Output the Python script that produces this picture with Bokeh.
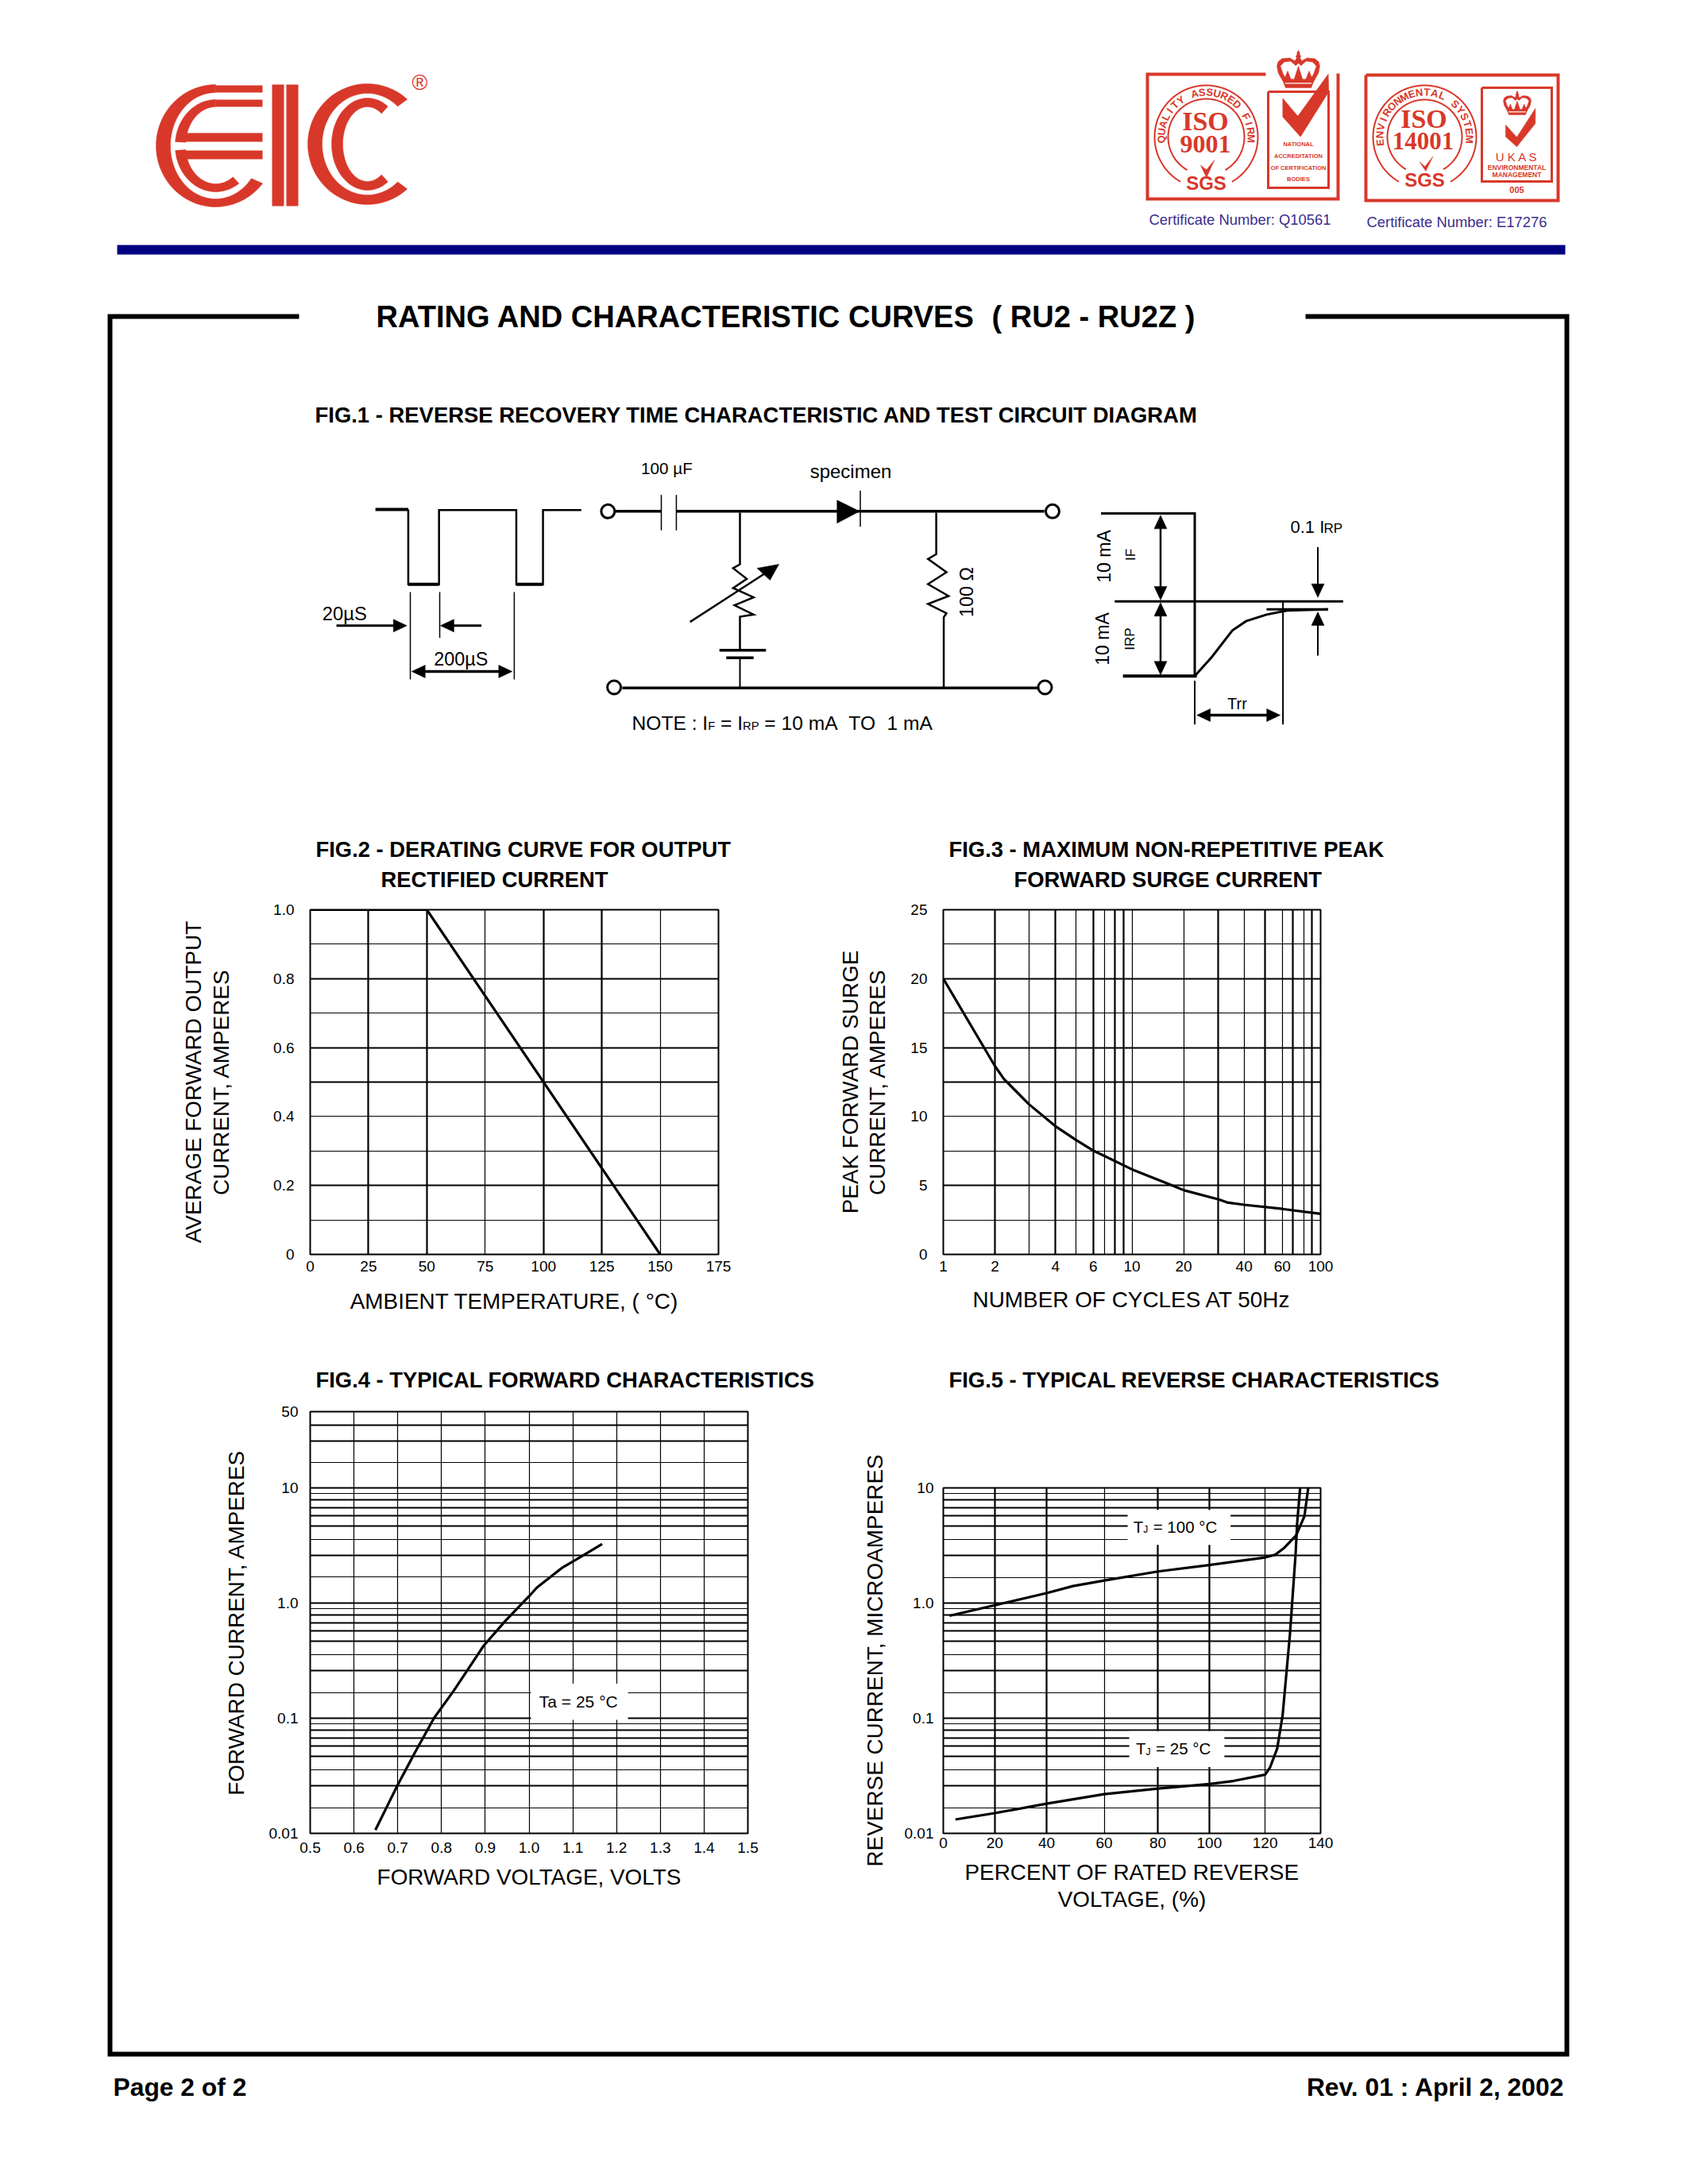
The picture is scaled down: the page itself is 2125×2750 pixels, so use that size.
import numpy as np
from bokeh.core.properties import value
from bokeh.embed import file_html
from bokeh.models import BasicTickFormatter, FixedTicker, Grid, Range1d
from bokeh.plotting import figure
from bokeh.resources import INLINE

# ---------------------------------------------------------------- chart data
fig2_temp = [0, 50, 150]
fig2_current = [1.0, 1.0, 0.0]
fig2_x_thin = [75, 150]
fig2_x_thick = [0, 25, 50, 100, 125, 175]
fig2_y_thin = [0.1, 0.3, 0.4, 0.7, 0.9]
fig2_y_thick = [0.2, 0.5, 0.6, 0.8]
fig2_x_labels = ["0", "25", "50", "75", "100", "125", "150", "175"]
fig2_x_ticks = [0, 25, 50, 75, 100, 125, 150, 175]
fig2_y_labels = ["0", "0.2", "0.4", "0.6", "0.8", "1.0"]
fig2_y_ticks = [0, 0.2, 0.4, 0.6, 0.8, 1.0]

fig3_cycles = [1, 1.88, 2.10, 2.85, 3.93, 5.07, 6.24, 10, 16.0, 18.8, 28.6, 32.0, 39.3, 62.7, 100]
fig3_surge = [20.0, 13.65, 12.71, 10.88, 9.3, 8.29, 7.53, 6.17, 5.06, 4.66, 4.0, 3.77, 3.6, 3.3, 2.94]
fig3_x_thin = [2.85, 5.07, 7.13, 10, 18.8, 39.3, 62.7, 81.3]
fig3_x_thick = [1, 1.88, 3.93, 6.24, 8.13, 9.02, 28.5, 50.7, 71.3, 90.2, 100]
fig3_x_ticks = [1, 1.88, 3.93, 6.24, 10, 18.8, 39.3, 62.7, 100]
fig3_x_labels = ["1", "2", "4", "6", "10", "20", "40", "60", "100"]
fig3_y_thin = [2.5, 7.5, 10, 17.5, 22.5]
fig3_y_thick = [5, 12.5, 15, 20]
fig3_y_ticks = [0, 5, 10, 15, 20, 25]
fig3_y_labels = ["0", "5", "10", "15", "20", "25"]

# one decade of the printed log paper
paper_thin = [8.88, 3.54, 1.67]
paper_thick = [10.0, 7.88, 6.72, 5.72, 4.64, 2.58]

fig4_volts = [0.649, 0.699, 0.738, 0.783, 0.828, 0.860, 0.896, 0.946, 1.0, 1.018, 1.077, 1.118, 1.167]
fig4_amps = [0.0107, 0.0259, 0.0492, 0.1002, 0.1728, 0.2627, 0.4224, 0.698, 1.139, 1.356, 2.03, 2.506, 3.24]
fig4_x_ticks = [0.5, 0.6, 0.7, 0.8, 0.9, 1.0, 1.1, 1.2, 1.3, 1.4, 1.5]
fig4_x_labels = ["0.5", "0.6", "0.7", "0.8", "0.9", "1.0", "1.1", "1.2", "1.3", "1.4", "1.5"]
fig4_y_ticks = [0.01, 0.1, 1, 10, 45.5]
fig4_y_labels = ["0.01", "0.1", "1.0", "10", "50"]
fig4_y_extra_thin = [16.5]
fig4_y_extra_thick = [25.4, 35.0]

fig5_pct_100 = [2.3, 19.1, 38.3, 48.1, 59.7, 79.6, 98.7, 119.4, 123.2, 126.6, 130.9, 134.0, 135.4]
fig5_ir_100 = [0.776, 0.957, 1.22, 1.405, 1.57, 1.88, 2.14, 2.49, 2.63, 3.03, 3.87, 5.68, 10.0]
fig5_pct_25 = [4.5, 19.1, 38.3, 59.7, 79.6, 98.7, 107.6, 119.4, 121.2, 123.9, 125.9, 127.3, 128.6, 130.7, 131.3, 132.4]
fig5_ir_25 = [0.0132, 0.0150, 0.0181, 0.0219, 0.0245, 0.0268, 0.0285, 0.0323, 0.0372, 0.0546, 0.106, 0.245, 0.528, 2.63, 4.94, 10.0]
fig5_x_ticks = [0, 19.1, 38.3, 59.7, 79.6, 98.7, 119.4, 140]
fig5_x_labels = ["0", "20", "40", "60", "80", "100", "120", "140"]
fig5_x_thin = [59.7, 119.4]
fig5_x_thick = [19.1, 38.3, 79.6, 98.7]
fig5_y_ticks = [0.01, 0.1, 1, 10]
fig5_y_labels = ["0.01", "0.1", "1.0", "10"]

SANS = "Liberation Sans"
SERIF = "Liberation Serif"
RED = "#D8382A"
BLUE = "#3A2E8C"

# ---------------------------------------------------------------- page figure
page = figure(width=2117, height=2742, x_range=Range1d(0, 2117), y_range=Range1d(2742, 0),
              toolbar_location=None, output_backend="svg", min_border=0,
              x_axis_location=None, y_axis_location=None)
page.grid.visible = False
page.outline_line_color = None
page.background_fill_color = "white"
page.border_fill_color = "white"


def T(x, y, s, size, bold=False, align="left", base="middle", angle=0.0, color="black", font=SANS, fig=page):
    fig.text(x=[x], y=[y], text=[s], text_font=value(font), text_font_size=f"{size}px",
             text_font_style="bold" if bold else "normal", text_align=align,
             text_baseline=base, angle=angle, text_color=color)


def L(pts, w=2.0, color="black", fig=page):
    xs, ys = zip(*pts)
    fig.line(list(xs), list(ys), line_width=w, line_color=color, line_join="miter")


def P(pts, color="black"):
    xs, ys = zip(*pts)
    page.patch(list(xs), list(ys), fill_color=color, line_color=color, line_width=0.5)


# frame, header bar, footer
L([(376, 398), (138, 398), (138, 2586), (1972, 2586), (1972, 398), (1643, 398)], 6)
page.quad(left=[147], right=[1970], top=[308], bottom=[320], fill_color="#000080", line_color=None)
T(473, 398, "RATING AND CHARACTERISTIC CURVES", 38.1, True)
T(1248, 398, "( RU2 - RU2Z )", 38.1, True)
T(142, 2627, "Page 2 of 2", 31.8, True)
T(1969, 2627, "Rev. 01 : April 2, 2002", 31.8, True, align="right")
T(396, 522, "FIG.1 - REVERSE RECOVERY TIME CHARACTERISTIC AND TEST CIRCUIT DIAGRAM", 27.45, True)
T(397, 1069, "FIG.2 - DERATING CURVE FOR OUTPUT", 27.4, True)
T(479, 1107, "RECTIFIED CURRENT", 27.4, True)
T(1194, 1069, "FIG.3 - MAXIMUM NON-REPETITIVE PEAK", 27.4, True)
T(1276, 1107, "FORWARD SURGE CURRENT", 27.4, True)
T(397, 1737, "FIG.4 - TYPICAL FORWARD CHARACTERISTICS", 27.4, True)
T(1194, 1737, "FIG.5 - TYPICAL REVERSE CHARACTERISTICS", 27.4, True)


# ---------------------------------------------------------------- logo
def band(cx, cy, rx1, ry1, rx2, ry2, a0, a1):
    a = np.radians(np.linspace(a0, a1, 60))
    xo = cx + rx1 * np.cos(a)
    yo = cy - ry1 * np.sin(a)
    xi = cx + rx2 * np.cos(a[::-1])
    yi = cy - ry2 * np.sin(a[::-1])
    return list(zip(np.r_[xo, xi], np.r_[yo, yi]))


def rect(x0, y0, x1, y1, color=RED):
    page.quad(left=[x0], right=[x1], top=[y0], bottom=[y1], fill_color=color, line_color=None)


P(band(271, 183, 75, 77, 57, 67, 90, 322), RED)
rect(271, 107, 330, 116)
P(band(271, 183, 51, 58, 38, 49, 90, 175), RED)
rect(271, 125, 330, 134)
rect(226, 167, 330, 178)
rect(222, 189, 330, 200)
P(band(271, 183, 51, 58, 38, 48, 186, 305), RED)
rect(342, 106, 357, 259)
rect(360, 106, 375, 259)
P(band(462, 181, 75, 76, 57, 64, 48, 312), RED)
P(band(462, 181, 45, 58, 31, 47, 55, 305), RED)
T(528, 103, "®", 27, align="center", color=RED)


# ---------------------------------------------------------------- badges
def crown(x0, y0, x1, y1):
    def m(uv):
        return [(x0 + u * (x1 - x0), y0 + v * (y1 - y0)) for u, v in uv]
    P(m([(.2, 1), (.15, .85), (.03, .6), (0, .42), (.03, .3), (.12, .22), (.3, .2), (.42, .28), (.46, .2),
         (.44, .15), (.47, .12), (.47, .06), (.5, 0), (.53, .06), (.53, .12), (.56, .15), (.54, .2),
         (.58, .28), (.7, .2), (.88, .22), (.97, .3), (1, .42), (.97, .6), (.85, .85), (.8, 1)]), RED)
    P(m([(.09, .42), (.17, .32), (.32, .3), (.44, .42), (.5, .35), (.56, .42), (.68, .3), (.83, .32), (.91, .42),
         (.85, .62), (.78, .76), (.22, .76), (.15, .62)]), "white")
    P(m([(.17, .78), (.25, .55), (.33, .78)]), RED)
    P(m([(.67, .78), (.75, .55), (.83, .78)]), RED)
    P(m([(.4, .78), (.5, .42), (.6, .78)]), RED)
    L(m([(.19, .88), (.81, .88)]), 1.2, "white")


def ring_text(cx, cy, r, s, a0, a1, size):
    for ch, a in zip(s, np.linspace(a0, a1, len(s))):
        t = np.radians(a)
        T(cx + r * np.cos(t), cy - r * np.sin(t), ch, size, True, "center", angle=float(t - np.pi / 2), color=RED)


def arc(cx, cy, r, a0, a1, w=2.0):
    a = np.radians(np.linspace(a0, a1, 80))
    L(list(zip(cx + r * np.cos(a), cy - r * np.sin(a))), w, RED)


def box(x0, y0, x1, y1, w=3.0):
    L([(x0, y0), (x1, y0), (x1, y1), (x0, y1), (x0, y0)], w, RED)


def zp(x0, y0, pts):
    return [(x0 + a / 3, y0 + b / 3) for a, b in pts]


# ISO 9001
L([(1593, 93), (1444, 93), (1444, 250), (1684, 250), (1684, 92)], 4, RED)
arc(1518, 172, 65, 240, -60)
arc(1518, 172, 48, 240, -60)
ring_text(1518, 172, 56.5, "QUALITY ASSURED FIRM", 183, -2, 13)
T(1517, 152, "ISO", 34, True, "center", color=RED, font=SERIF)
T(1517, 181, "9001", 32, True, "center", color=RED, font=SERIF)
P(zp(1430, 55, [(243, 458), (265, 475), (295, 438), (265, 505)]), RED)
T(1518, 230, "SGS", 24, True, "center", color=RED)
box(1596, 115, 1672, 236)
crown(1607, 63, 1661, 110)
P(zp(1430, 55, [(553, 205), (610, 272), (725, 113), (727, 180), (620, 350), (553, 275)]), RED)
for yy, s, sz in [(181, "NATIONAL", 7.5), (196, "ACCREDITATION", 7.5), (211, "OF CERTIFICATION", 7.5), (225, "BODIES", 7.5)]:
    T(1634, yy, s, sz, True, "center", color=RED)
T(1446, 276, "Certificate Number: Q10561", 18.4, color=BLUE)

# ISO 14001
box(1719, 94, 1961, 252, 4)
arc(1793, 172, 65, 240, -60)
arc(1793, 172, 47, 240, -60)
ring_text(1793, 172, 56.5, "ENVIRONMENTAL SYSTEM", 187, -3, 13)
T(1792, 149, "ISO", 34, True, "center", color=RED, font=SERIF)
T(1791, 177, "14001", 31, True, "center", color=RED, font=SERIF)
P(zp(1705, 75, [(245, 385), (265, 403), (295, 365), (268, 420)]), RED)
T(1793, 226, "SGS", 24, True, "center", color=RED)
box(1865, 110, 1953, 228)
crown(1892, 114, 1927, 144)
P(zp(1705, 75, [(570, 245), (612, 292), (682, 183), (682, 240), (612, 328), (570, 290)]), RED)
T(1909, 197, "U K A S", 15, align="center", color=RED)
T(1909, 210, "ENVIRONMENTAL", 8.5, True, "center", color=RED)
T(1909, 219.5, "MANAGEMENT", 8.5, True, "center", color=RED)
T(1909, 238, "005", 11, True, "center", color=RED)
T(1720, 279, "Certificate Number: E17276", 18.4, color=BLUE)


# ---------------------------------------------------------------- test-circuit diagram
def z(pts):
    return [(380 + a / 1.1615, 560 + b / 3) for a, b in pts]


def LZ(pts, w=2.0):
    L(z(pts), w)


def head(tip, d):
    x, y = z([tip])[0]
    if d in "rl":
        s = -1 if d == "r" else 1
        P([(x, y), (x + s * 17, y - 8), (x + s * 17, y + 8)])
    else:
        s = -1 if d == "d" else 1
        P([(x, y), (x - 8, y + s * 17), (x + 8, y + s * 17)])


LZ([(107, 243), (155, 243)], 4)
LZ([(155, 243), (155, 526), (200, 526), (200, 245), (313, 245), (313, 526), (352, 526), (352, 245), (408, 245)], 2.5)
LZ([(155, 526), (200, 526)], 4)
LZ([(313, 526), (352, 526)], 4)
LZ([(158, 555), (158, 885)], 1.5)
LZ([(201, 555), (201, 728)], 1.5)
LZ([(310, 555), (310, 885)], 1.5)
LZ([(50, 682), (140, 682)], 3)
head((153, 682), "r")
LZ([(262, 682), (215, 682)], 3)
head((202, 682), "l")
LZ([(170, 855), (297, 855)], 3.5)
head((160, 855), "l")
head((307, 855), "r")
T(380 + 62 / 1.1615, 772, "20µS", 23.8, align="center")
T(380 + 232 / 1.1615, 829, "200µS", 23.4, align="center")

LZ([(458, 250), (525, 250)], 3.5)
LZ([(547, 250), (1085, 250)], 3.5)
LZ([(525, 188), (525, 322)], 1.5)
LZ([(547, 188), (547, 322)], 1.5)
P(z([(782, 208), (782, 295), (815, 250)]))
LZ([(816, 172), (816, 308)], 1.5)
LZ([(468, 917), (1075, 917)], 3.5)
LZ([(640, 255), (640, 450), (630, 465), (650, 505), (630, 540), (660, 575), (632, 605), (660, 640), (640, 648), (640, 772)], 2.5)
LZ([(610, 775), (678, 775)], 3.5)
LZ([(620, 803), (660, 803)], 3.5)
LZ([(640, 808), (640, 915)], 2)
LZ([(567, 668), (690, 462)], 2.5)
P(z([(697, 450), (665, 465), (684, 510)]))
LZ([(927, 255), (927, 412), (915, 430), (942, 480), (915, 525), (945, 570), (915, 600), (942, 635), (938, 650), (938, 915)], 2.5)
for a, b in [(447, 250), (1097, 250), (456, 915), (1086, 915)]:
    (px, py), = z([(a, b)])
    page.scatter([px], [py], size=17, marker="circle", fill_color="white", line_color="black", line_width=3)
T(380 + 533 / 1.1615, 589, "100 µF", 20.7, align="center")
T(380 + 802 / 1.1615, 592.5, "specimen", 24, align="center")
T(380 + 972 / 1.1615, 745, "100 Ω", 23.4, align="center", angle=np.pi / 2)
# the note, piece by piece: small subscripts and wide gaps as in the print
for nx, ny, s, sz in [(795, 909.5, "NOTE : I", 24.6), (890.7, 913, "F", 14.8), (906.5, 909.5, "=", 24.6),
                      (927.7, 909.5, "I", 24.6), (934.6, 913, "RP", 14.8), (961.8, 909.5, "=", 24.6),
                      (983, 909.5, "10 mA", 24.6), (1067.8, 909.5, "TO", 24.6), (1115.9, 909.5, "1 mA", 24.6)]:
    T(nx, ny, s, sz)

LZ([(1168, 258), (1305, 258), (1305, 872)], 3)
LZ([(1200, 872), (1308, 872)], 4)
LZ([(1188, 590), (1522, 590)], 3)
LZ([(1255, 300), (1255, 550)], 2.5)
head((1255, 265), "u")
head((1255, 585), "d")
LZ([(1255, 630), (1255, 830)], 2.5)
head((1255, 595), "u")
head((1255, 868), "d")
LZ([(1305, 872), (1330, 800), (1360, 700), (1380, 665), (1410, 640), (1440, 625), (1500, 620)], 3)
LZ([(1410, 620), (1500, 620)], 3)
LZ([(1434, 590), (1434, 1055)], 2)
LZ([(1305, 890), (1305, 1055)], 2)
LZ([(1485, 385), (1485, 530)], 2)
head((1485, 575), "d")
LZ([(1485, 795), (1485, 670)], 2)
head((1485, 630), "u")
LZ([(1320, 1020), (1418, 1020)], 3.5)
head((1308, 1020), "l")
head((1430, 1020), "r")
T(380 + 1367 / 1.1615, 885, "Trr", 20, align="center")
T(1624, 662.5, "0.1 I", 22)
T(1666, 665, "RP", 17)
T(380 + 1172 / 1.1615, 700, "10 mA", 23, align="center", angle=np.pi / 2)
T(380 + 1212 / 1.1615, 698, "IF", 17, align="center", angle=np.pi / 2)
T(380 + 1170 / 1.1615, 804, "10 mA", 23, align="center", angle=np.pi / 2)
T(380 + 1210 / 1.1615, 804, "IRP", 17, align="center", angle=np.pi / 2)


# ---------------------------------------------------------------- the four charts
BL, BR, BT, BB = 260, 60, 150, 130


def chart(x0, y0, x1, y1, xr, yr, xticks, xlabels, yticks, ylabels, xlabel, ylabel, xs_off, ys_off,
          xl_off, yl_off, xlog=False, ylog=False):
    p = figure(frame_width=int(round(x1 - x0)), frame_height=int(round(y1 - y0)),
               min_border_left=BL, min_border_right=BR, min_border_top=BT, min_border_bottom=BB,
               x_range=Range1d(*xr), y_range=Range1d(*yr),
               x_axis_type="log" if xlog else "linear", y_axis_type="log" if ylog else "linear",
               toolbar_location=None, output_backend="svg",
               background_fill_color=None, border_fill_color=None,
               styles={"position": "absolute", "left": f"{round(x0) - BL}px", "top": f"{round(y0) - BT}px"})
    p.grid.visible = False
    p.outline_line_color = "black"
    p.outline_line_width = 2
    for ax, ticks, labels, s_off, l_off, lab in ((p.xaxis[0], xticks, xlabels, xs_off, xl_off, xlabel),
                                                 (p.yaxis[0], yticks, ylabels, ys_off, yl_off, ylabel)):
        ax.ticker = FixedTicker(ticks=ticks)
        ax.formatter = BasicTickFormatter()
        ax.major_label_overrides = dict(zip(ticks, labels))
        ax.axis_line_color = None
        ax.major_tick_line_color = None
        ax.minor_tick_line_color = None
        ax.major_tick_out = 0
        ax.major_label_text_font = SANS
        ax.major_label_text_font_size = "19px"
        ax.major_label_text_color = "black"
        ax.major_label_standoff = s_off
        ax.axis_label = lab
        ax.axis_label_text_font = SANS
        ax.axis_label_text_font_size = "27.9px"
        ax.axis_label_text_font_style = "normal"
        ax.axis_label_text_color = "black"
        ax.axis_label_text_line_height = 1.12
        ax.axis_label_standoff = l_off
    return p


def grids(p, dim, thin, thick):
    p.add_layout(Grid(dimension=dim, ticker=FixedTicker(ticks=thin), grid_line_color="black", grid_line_width=1.2))
    p.add_layout(Grid(dimension=dim, ticker=FixedTicker(ticks=thick), grid_line_color="black", grid_line_width=2.2))


def decades(marks, powers):
    return [m * 10.0 ** k for k in powers for m in marks]


# FIG.2
f2 = chart(390, 1145, 904, 1579, (0, 175), (0, 1), fig2_x_ticks, fig2_x_labels, fig2_y_ticks, fig2_y_labels,
           "AMBIENT TEMPERATURE, ( °C)", "AVERAGE FORWARD OUTPUT\nCURRENT, AMPERES", 8, 20, 19, 47)
grids(f2, 0, fig2_x_thin, fig2_x_thick)
grids(f2, 1, fig2_y_thin, fig2_y_thick)
f2.line(fig2_temp, fig2_current, line_color="black", line_width=3.2)

# FIG.3
f3 = chart(1187, 1145, 1662, 1579, (1, 100), (0, 25), fig3_x_ticks, fig3_x_labels, fig3_y_ticks, fig3_y_labels,
           "NUMBER OF CYCLES AT 50Hz", "PEAK FORWARD SURGE\nCURRENT, AMPERES", 8, 20, 17, 23, xlog=True)
grids(f3, 0, fig3_x_thin, fig3_x_thick)
grids(f3, 1, fig3_y_thin, fig3_y_thick)
f3.line(fig3_cycles, fig3_surge, line_color="black", line_width=3.2)

# FIG.4
f4 = chart(390, 1777, 941, 2308, (0.5, 1.5), (0.01, 45.5), fig4_x_ticks, fig4_x_labels, fig4_y_ticks, fig4_y_labels,
           "FORWARD VOLTAGE, VOLTS", "FORWARD CURRENT, AMPERES", 11, 15, 12, 23, ylog=True)
grids(f4, 0, fig4_x_ticks[1:-1], [])
grids(f4, 1, decades(paper_thin, [-2, -1, 0]) + fig4_y_extra_thin,
      decades(paper_thick, [-2, -1, 0]) + fig4_y_extra_thick)
f4.quad(left=[1.0045], right=[1.226], top=[0.1985], bottom=[0.0968], fill_color="white", line_color=None)
f4.line(fig4_volts, fig4_amps, line_color="black", line_width=3.2)
T(1.113, 0.140, "Ta = 25 °C", 21, align="center", fig=f4)

# FIG.5
f5 = chart(1187, 1873, 1662, 2308, (0, 140), (0.01, 10), fig5_x_ticks, fig5_x_labels, fig5_y_ticks, fig5_y_labels,
           "PERCENT OF RATED REVERSE\nVOLTAGE, (%)", "REVERSE CURRENT, MICROAMPERES", 5, 12, 12, 19, ylog=True)
grids(f5, 0, fig5_x_thin, fig5_x_thick)
grids(f5, 1, decades(paper_thin, [-2, -1, 0]), decades(paper_thick[1:], [-2, -1, 0]) + [0.1, 1.0])
f5.quad(left=[68.4], right=[106.6], top=[6.44], bottom=[3.20], fill_color="white", line_color=None)
f5.quad(left=[69.0], right=[104.3], top=[0.0774], bottom=[0.0377], fill_color="white", line_color=None)
f5.line(fig5_pct_100, fig5_ir_100, line_color="black", line_width=3.2)
f5.line(fig5_pct_25, fig5_ir_25, line_color="black", line_width=3.2)
for xv, yv, tail in [(70.5, 4.6, "= 100 °C"), (71.5, 0.0546, "= 25 °C")]:
    f5.text(x=[xv], y=[yv], text=["T"], text_font=value(SANS), text_font_size="20.5px", text_baseline="middle")
    f5.text(x=[xv], y=[yv], text=["J"], text_font=value(SANS), text_font_size="12px", text_baseline="middle",
            x_offset=12.5, y_offset=4)
    f5.text(x=[xv], y=[yv], text=[tail], text_font=value(SANS), text_font_size="20.5px", text_baseline="middle",
            x_offset=25)

open("out.html", "w").write(file_html([page, f2, f3, f4, f5], INLINE))
